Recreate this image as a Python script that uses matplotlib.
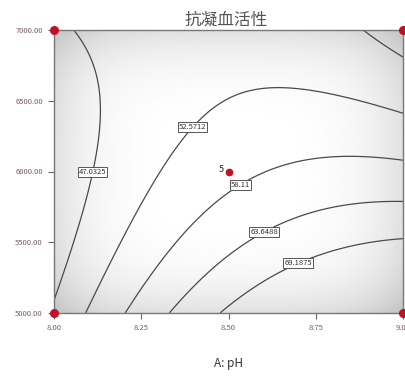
import numpy as np
import matplotlib
matplotlib.use("Agg")
import matplotlib.pyplot as plt

plt.rcParams['font.family'] = ['Noto Sans CJK SC', 'DejaVu Sans']

# Response-surface model (coded units)
coef_names = ['b0', 'A', 'B', 'AB', 'A2', 'B2']
coef = [56.583, 8.216, -9.703, -8.816, -5.236, 3.737]
levels = [47.0325, 52.5712, 58.11, 63.6488, 69.1875]
label_pos = [(8.109, 6000), (8.389, 6330), (8.526, 5935), (8.594, 5610), (8.694, 5380)]
x_ticks = [8.00, 8.25, 8.50, 8.75, 9.00]
y_ticks = [5000, 5500, 6000, 6500, 7000]
design_pts = [(8.0, 5000), (8.0, 7000), (9.0, 5000), (9.0, 7000)]
center_pt = (8.5, 6000)
center_reps = "5"

fig = plt.figure(figsize=(4.06, 3.76), dpi=100)
ax = fig.add_axes([54/406, 1-313/376, 349/406, 283/376])

pH = np.linspace(8, 9, 301)
B = np.linspace(5000, 7000, 301)
PX, BY = np.meshgrid(pH, B)
cx = (PX - 8.5) / 0.5
cy = (BY - 6000) / 1000
Z = (coef[0] + coef[1]*cx + coef[2]*cy + coef[3]*cx*cy
     + coef[4]*cx**2 + coef[5]*cy**2)

# standard-error style background shading
shade = 1 - 0.12*(np.abs(cx)**4 + np.abs(cy)**4)
ax.imshow(shade, extent=[8, 9, 5000, 7000], origin='lower', cmap='gray',
          vmin=0, vmax=1, aspect='auto', interpolation='bilinear', zorder=0)

cs = ax.contour(PX, BY, Z, levels=levels, colors='#4a4a4a', linewidths=0.9, zorder=2)
texts = ax.clabel(cs, levels, fmt=lambda v: f'{v:g}', manual=label_pos,
                  inline=False, fontsize=5.5, colors='#333333')
for t in texts:
    t.set_bbox(dict(boxstyle='square,pad=0.12', fc='white', ec='#555555', lw=0.7))
    t.set_rotation(0)
    t.set_zorder(4)

for (a, b) in design_pts:
    ax.plot(a, b, 'o', color='#c0102a', ms=5.5, clip_on=False, zorder=5)
ax.plot(*center_pt, 'o', color='#c0102a', ms=4.5, zorder=5)
ax.text(center_pt[0]-0.012, center_pt[1]+15, center_reps, ha='right', va='center',
        fontsize=6.5, color='#222222', zorder=5)

ax.set_xlim(8, 9)
ax.set_ylim(5000, 7000)
ax.set_xticks(x_ticks)
ax.set_xticklabels([f'{v:.2f}' for v in x_ticks])
ax.set_yticks(y_ticks)
ax.set_yticklabels([f'{v:.2f}' for v in y_ticks])
ax.tick_params(axis='both', labelsize=5.5, labelcolor='#7a5a6a', color='#666666',
               length=4, width=0.8, pad=4)
for s in ax.spines.values():
    s.set_color('#777777')
    s.set_linewidth(1.0)

ax.set_xlabel('A: pH', fontsize=8.5, color='#333333', labelpad=18)
fig.text(226/406, 1-20/376, '抗凝血活性', ha='center', va='center',
         fontsize=12, color='#555555')

fig.savefig('out.png')
